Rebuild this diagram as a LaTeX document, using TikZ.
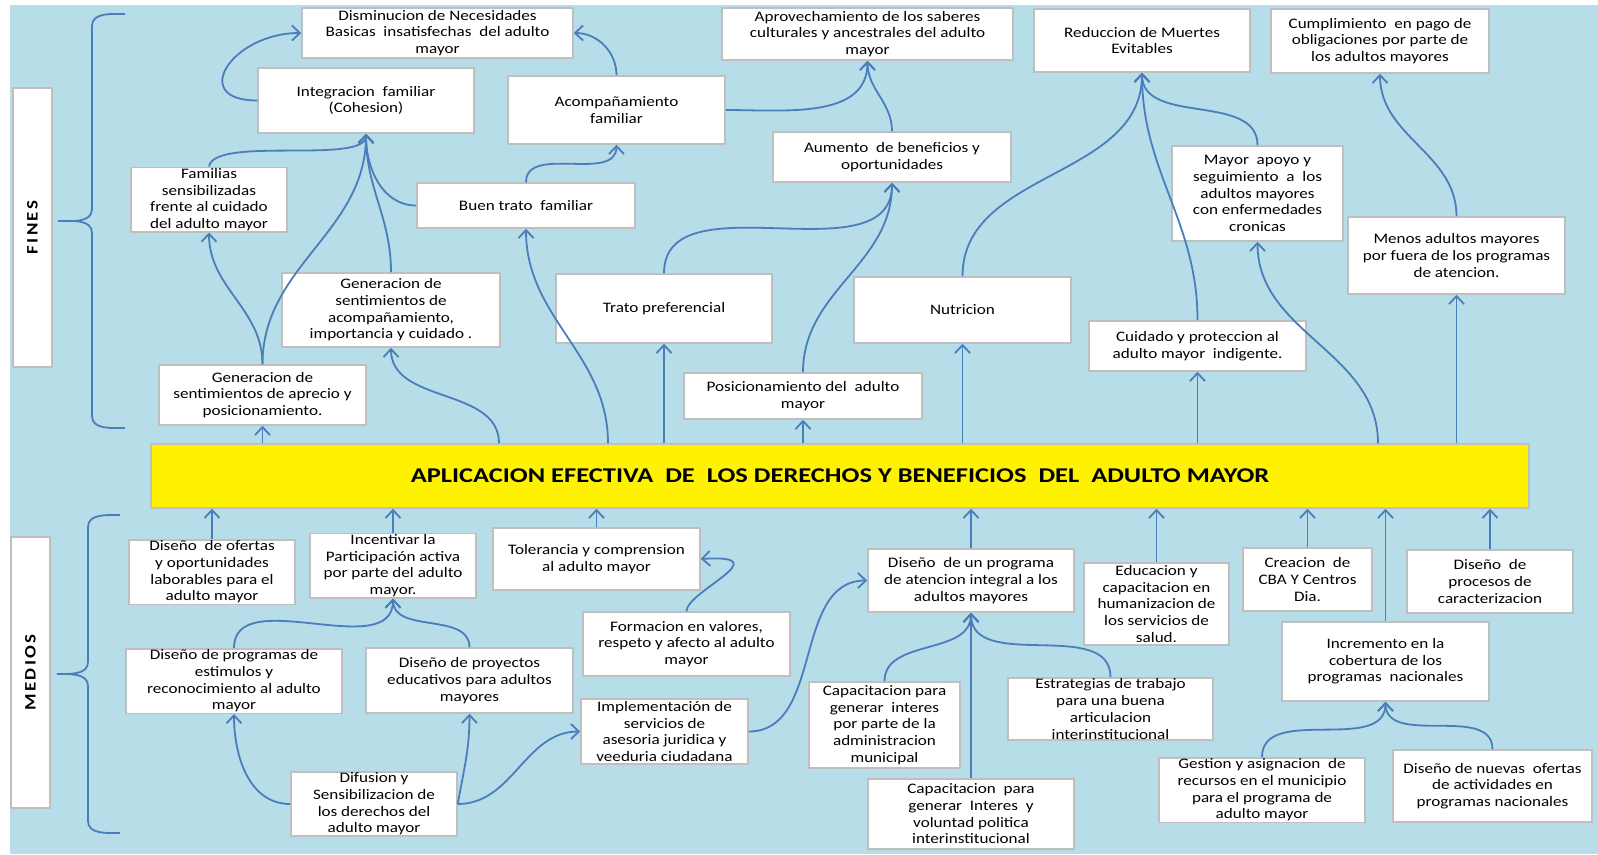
\documentclass[tikz,border=0pt]{standalone}
\usepackage{fontspec}
\setmainfont{Carlito}[FakeStretch=1.18]
\newfontfamily\titlefont{Carlito}[FakeStretch=1.26]
\usetikzlibrary{arrows.meta}
\definecolor{bgblue}{RGB}{183,221,232}
\definecolor{linkblue}{RGB}{74,126,187}
\definecolor{boxgray}{RGB}{191,191,191}
\begin{document}
\begin{tikzpicture}[x=1pt, y=1pt, font=\fontsize{14.5pt}{16.7pt}\selectfont,
box/.style 2 args = {draw=boxgray, line width=1.5pt, fill=white, align=center, inner sep=1pt, minimum width=#1, minimum height=#2},
link/.style = {draw=linkblue, line width=1.8pt, -{Straight Barb[length=8pt, width=15pt]}},
brace/.style = {draw=linkblue, line width=1.8pt},
side/.style = {rotate=90, font=\bfseries\fontsize{16pt}{18pt}\selectfont\addfontfeature{LetterSpace=15}}]
\useasboundingbox (0,0) rectangle (1598,-854);
\fill[white] (0,0) rectangle (1598,-854);
\fill[bgblue] (10,-5) rectangle (1598,-854);
\node[box={279pt}{39pt}, side] (fines) at (32.5,-227.5) {FINES};
\node[box={271pt}{39pt}, side] (medios) at (30.5,-672.5) {MEDIOS};
\draw[brace] (125,-14) to[out=180,in=90] (92,-26) -- (92,-209) to[out=-90,in=0] (58,-221) to[out=0,in=90] (92,-233) -- (92,-416) to[out=-90,in=180] (125,-428);
\draw[brace] (120,-515) to[out=180,in=90] (88,-527) -- (88,-662) to[out=-90,in=0] (57,-674) to[out=0,in=90] (88,-686) -- (88,-821) to[out=-90,in=180] (120,-833);
\node[box={271pt}{50pt}] (dism) at (437.5,-33) {Disminucion de Necesidades\\Basicas\ \ insatisfechas\ \ del adulto\\mayor};
\node[box={216pt}{65pt}] (integ) at (366,-100.5) {Integracion\ \ familiar\\(Cohesion)};
\node[box={217pt}{68pt}] (acomp) at (616.5,-110) {Acompañamiento\\familiar};
\node[box={291pt}{52pt}] (aprov) at (867.5,-34) {Aprovechamiento de los saberes\\culturales y ancestrales del adulto\\mayor};
\node[box={216pt}{63pt}] (reduc) at (1142,-40.5) {Reduccion de Muertes\\Evitables};
\node[box={218pt}{64pt}] (cumpl) at (1380,-41) {Cumplimiento\ \ en pago de\\obligaciones por parte de\\los adultos mayores};
\node[box={156pt}{63pt}] (famil) at (209,-199.5) {Familias\\sensibilizadas\\frente al cuidado\\del adulto mayor};
\node[box={218pt}{45pt}] (buen) at (526,-205.5) {Buen trato\ \ familiar};
\node[box={238pt}{50pt}] (aument) at (892,-157) {Aumento\ \ de beneficios y\\oportunidades};
\node[box={171pt}{95pt}] (mayor) at (1257.5,-193.5) {Mayor\ \ apoyo y\\seguimiento\ \ a\ \ los\\adultos mayores\\con enfermedades\\cronicas};
\node[box={217pt}{77pt}] (menos) at (1456.5,-255.5) {Menos adultos mayores\\por fuera de los programas\\de atencion.};
\node[box={218pt}{74pt}] (genacomp) at (391,-310) {Generacion de\\sentimientos de\\acompañamiento,\\importancia y cuidado .};
\node[box={216pt}{69pt}] (trato) at (664,-308.5) {Trato preferencial};
\node[box={217pt}{66pt}] (nutri) at (962.5,-310) {Nutricion};
\node[box={217pt}{50pt}] (cuidado) at (1197.5,-346) {Cuidado y proteccion al\\adulto mayor\ \ indigente.};
\node[box={207pt}{60pt}] (genaprec) at (262.5,-395) {Generacion de\\sentimientos de aprecio y\\posicionamiento.};
\node[box={238pt}{46pt}] (posic) at (803,-396) {Posicionamiento del\ \ adulto\\mayor};
\node[box={1378pt}{64pt}, fill=yellow, font=\titlefont\bfseries\fontsize{21pt}{24pt}\selectfont] (bar) at (840,-476) {APLICACION EFECTIVA\ \ DE\ \ LOS DERECHOS Y BENEFICIOS\ \ DEL\ \ ADULTO MAYOR};
\node[box={166pt}{64pt}] (dofert) at (212,-572) {Diseño\ \ de ofertas\\y oportunidades\\laborables para el\\adulto mayor};
\node[box={166pt}{63pt}] (incent) at (393,-565.5) {Incentivar la\\Participación activa\\por parte del adulto\\mayor.};
\node[box={207pt}{62pt}] (toler) at (596.5,-559) {Tolerancia y comprension\\al adulto mayor};
\node[box={206pt}{63pt}] (datenc) at (971,-580.5) {Diseño\ \ de un programa\\de atencion integral a los\\adultos mayores};
\node[box={145pt}{82pt}] (educ) at (1156.5,-604) {Educacion y\\capacitacion en\\humanizacion de\\los servicios de\\salud.};
\node[box={129pt}{63pt}] (creac) at (1307.5,-579.5) {Creacion\ \ de\\CBA Y Centros\\Dia.};
\node[box={166pt}{63pt}] (dproc) at (1490,-581.5) {Diseño\ \ de\\procesos de\\caracterizacion};
\node[box={207pt}{64pt}] (formac) at (686.5,-644) {Formacion en valores,\\respeto y afecto al adulto\\mayor};
\node[box={207pt}{79pt}] (incrm) at (1385.5,-661.5) {Incremento en la\\cobertura de los\\programas\ \ nacionales};
\node[box={216pt}{64pt}] (dprog) at (234,-681) {Diseño de programas de\\estimulos y\\reconocimiento al adulto\\mayor};
\node[box={207pt}{65pt}] (dproy) at (469.5,-680.5) {Diseño de proyectos\\educativos para adultos\\mayores};
\node[box={151pt}{86pt}] (capmun) at (884.5,-725) {Capacitacion para\\generar\ \ interes\\por parte de la\\administracion\\municipal};
\node[box={205pt}{62pt}] (estrat) at (1110.5,-709) {Estrategias de trabajo\\para una buena\\articulacion\\interinstitucional};
\node[box={167pt}{65pt}] (implem) at (664.5,-731.5) {Implementación de\\servicios de\\asesoria juridica y\\veeduria ciudadana};
\node[box={206pt}{64pt}] (gestion) at (1262,-790) {Gestion y asignacion\ \ de\\recursos en el municipio\\para el programa de\\adulto mayor};
\node[box={199pt}{72pt}] (dnuev) at (1492.5,-786) {Diseño de nuevas\ \ ofertas\\de actividades en\\programas nacionales};
\node[box={166pt}{64pt}] (difus) at (374,-804) {Difusion y\\Sensibilizacion de\\los derechos del\\adulto mayor};
\node[box={206pt}{70pt}] (capvol) at (971,-814) {Capacitacion\ \ para\\generar\ \ Interes\ \ y\\voluntad politica\\interinstitucional};
\draw[link] (integ.west) to[out=180,in=180,looseness=2.2] (dism.west);
\draw[link] (acomp.north) to[out=90,in=0] (dism.east);
\draw[link] (acomp.east) to[out=0,in=-90] (aprov.south);
\draw[link] (aument.north) to[out=90,in=-90] (aprov.south);
\draw[link] (famil.north) to[out=80,in=-90,looseness=0.5] (integ.south);
\draw[link] (buen.west) to[out=180,in=-90] (integ.south);
\draw[link] (genacomp.north) to[out=90,in=-90] (integ.south);
\draw[link] (genaprec.north) to[out=90,in=-90] (integ.south);
\draw[link] (genaprec.north) to[out=90,in=-90] (famil.south);
\draw[link] (buen.north) to[out=90,in=-90] (acomp.south);
\draw[link] ([xshift=-341pt]bar.north) to[out=90,in=-90] (genacomp.south);
\draw[link] ([xshift=-232pt]bar.north) to[out=90,in=-90] (buen.south);
\draw[link] (bar.north -| genaprec.south) -- (genaprec.south);
\draw[link] (bar.north -| trato.south) -- (trato.south);
\draw[link] (bar.north -| posic.south) -- (posic.south);
\draw[link] (posic.north) to[out=90,in=-90] (aument.south);
\draw[link] (trato.north) to[out=90,in=-90] (aument.south);
\draw[link] (bar.north -| nutri.south) -- (nutri.south);
\draw[link] (nutri.north) to[out=90,in=-90] (reduc.south);
\draw[link] (mayor.north) to[out=90,in=-90] (reduc.south);
\draw[link] (cuidado.north) to[out=90,in=-90] (reduc.south);
\draw[link] (bar.north -| cuidado.south) -- (cuidado.south);
\draw[link] ([xshift=538pt]bar.north) to[out=90,in=-90] (mayor.south);
\draw[link] (bar.north -| menos.south) -- (menos.south);
\draw[link] (menos.north) to[out=90,in=-90] (cumpl.south);
\draw[link] (dofert.north) -- (dofert.north |- bar.south);
\draw[link] (incent.north) -- (incent.north |- bar.south);
\draw[link] (toler.north) -- (toler.north |- bar.south);
\draw[link] (dprog.north) to[out=90,in=-90] (incent.south);
\draw[link] (dproy.north) to[out=90,in=-90] (incent.south);
\draw[link] (difus.west) to[out=180,in=-90] (dprog.south);
\draw[link] (difus.east) to[out=80,in=-90] (dproy.south);
\draw[link] (difus.east) to[out=0,in=180] (implem.west);
\draw[link] (formac.north) .. controls +(0,20) and +(80,5) .. (toler.east);
\draw[link] (implem.east) to[out=0,in=180] (datenc.west);
\draw[link] (datenc.north) -- (datenc.north |- bar.south);
\draw[link] (capmun.north) to[out=90,in=-90] (datenc.south);
\draw[link] (estrat.north) to[out=90,in=-90] (datenc.south);
\draw[link] (capvol.north) -- (datenc.south);
\draw[link] (educ.north) -- (educ.north |- bar.south);
\draw[link] (creac.north) -- (creac.north |- bar.south);
\draw[link] (incrm.north) -- (incrm.north |- bar.south);
\draw[link] (dproc.north) -- (dproc.north |- bar.south);
\draw[link] (gestion.north) to[out=90,in=-90] (incrm.south);
\draw[link] (dnuev.north) to[out=90,in=-90] (incrm.south);
\end{tikzpicture}
\end{document}
